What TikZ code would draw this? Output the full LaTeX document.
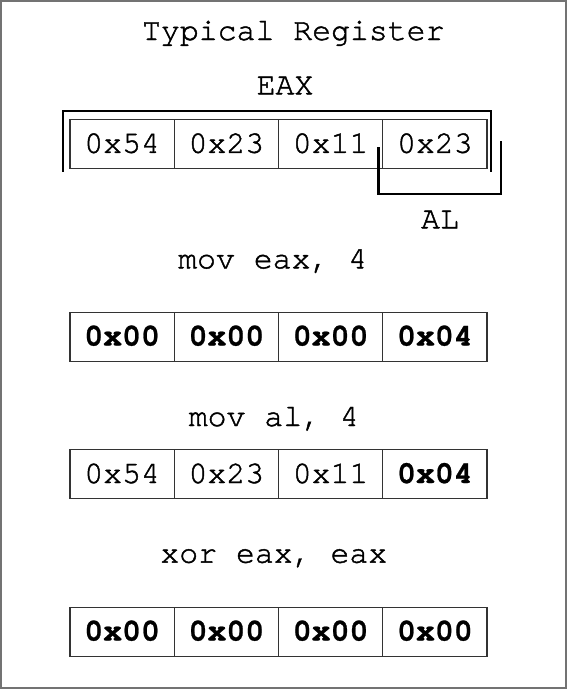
\documentclass[tikz,border=0pt]{standalone}
\usepackage{fontspec}
\setmainfont[Extension=.otf, BoldFont=texgyrecursor-bold,
  UprightFeatures={FakeBold=1.4}, BoldFeatures={FakeBold=0.8}]{texgyrecursor-regular}
\begin{document}
\begin{tikzpicture}[x=1pt,y=-1pt,
  cell/.style={draw=black!80, line width=1.2pt, minimum width=104.3pt, minimum height=49pt,
    inner sep=0pt, text height=17.6pt, text depth=0pt, font=\fontsize{31.5}{38}\selectfont},
  bcell/.style={cell, font=\fontsize{31.5}{38}\selectfont\bfseries},
  lbl/.style={anchor=base, inner sep=0pt, font=\fontsize{31.5}{38}\selectfont},
  brk/.style={line width=2.4pt, black}]
\useasboundingbox (0,0) rectangle (567,689);
\draw[black!55, line width=1.5pt] (1,1) rectangle (566,688);

\node[lbl] (title) at (293.3,40) {Typical Register};
\node[lbl] (eax) at (285,94.3) {EAX};
% row 1
\node[cell] (r1a) at (122.1,144) {0x54};
\node[cell] (r1b) at (226.4,144) {0x23};
\node[cell] (r1c) at (330.6,144) {0x11};
\node[cell] (r1d) at (434.9,144) {0x23};
% brackets
\draw[brk] (62.7,171.7) -- (62.7,110.7) -- (490.7,110.7) -- (490.7,171.7);
\draw[brk] (378.3,147.3) -- (378.3,194) -- (500.7,194) -- (500.7,140.7);
\node[lbl] (al) at (440,228.3) {AL};
% mov eax, 4
\node[lbl] (cmd1) at (272.7,268.3) {mov eax, 4};
\node[bcell] (r2a) at (122.1,336.7) {0x00};
\node[bcell] (r2b) at (226.4,336.7) {0x00};
\node[bcell] (r2c) at (330.6,336.7) {0x00};
\node[bcell] (r2d) at (434.9,336.7) {0x04};
% mov al, 4
\node[lbl] (cmd2) at (273.8,426) {mov al, 4};
\node[cell] (r3a) at (122.1,474.2) {0x54};
\node[cell] (r3b) at (226.4,474.2) {0x23};
\node[cell] (r3c) at (330.6,474.2) {0x11};
\node[bcell] (r3d) at (434.9,474.2) {0x04};
% xor eax, eax
\node[lbl] (cmd3) at (273.8,562.7) {xor eax, eax};
\node[bcell] (r4a) at (122.1,631.7) {0x00};
\node[bcell] (r4b) at (226.4,631.7) {0x00};
\node[bcell] (r4c) at (330.6,631.7) {0x00};
\node[bcell] (r4d) at (434.9,631.7) {0x00};
\end{tikzpicture}
\end{document}
